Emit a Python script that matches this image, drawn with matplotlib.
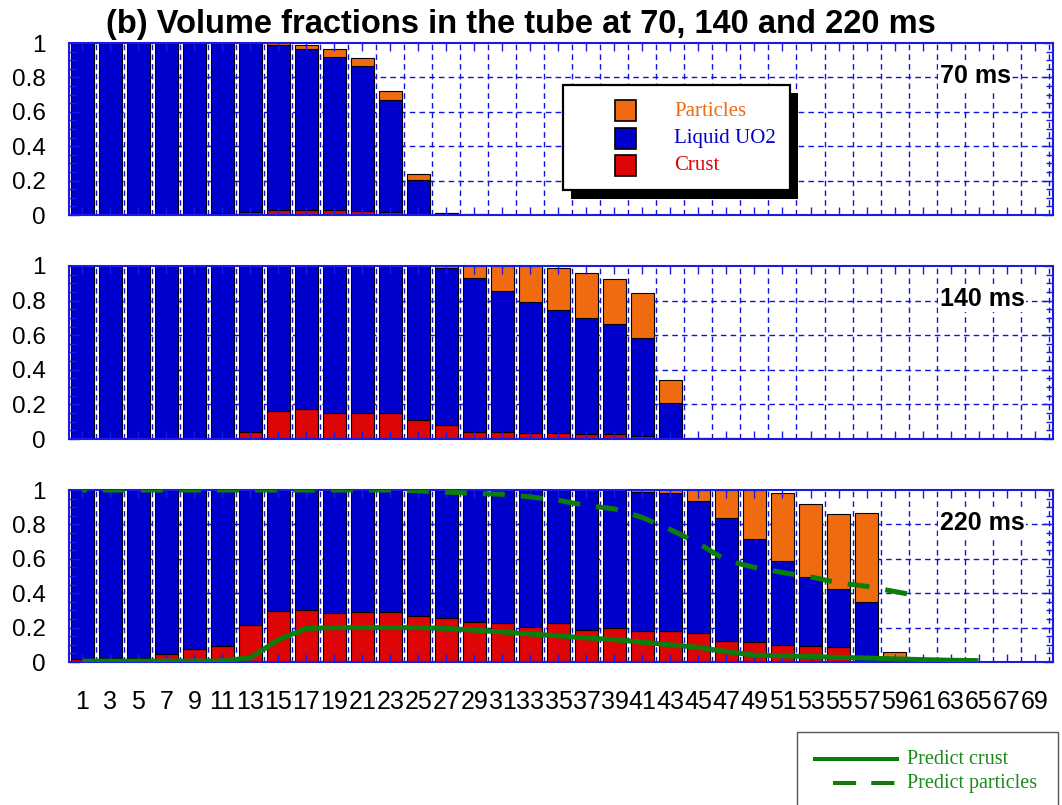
import matplotlib
matplotlib.use("Agg")
import matplotlib.pyplot as plt
from matplotlib.patches import Rectangle
from matplotlib.lines import Line2D
from matplotlib.ticker import MultipleLocator

plt.rcParams['font.family'] = ['Liberation Sans', 'DejaVu Sans']

# --- cells along the tube (every other cell labelled) ---
cells = list(range(1, 70, 2))

# --- volume fractions at 70 ms ---
crust_70 = [0, 0, 0, 0, 0, 0.01, 0.02, 0.03, 0.03, 0.03, 0.025, 0.015, 0.005,
            0.002, 0.001, 0.001, 0, 0, 0, 0, 0, 0, 0, 0, 0, 0, 0, 0, 0, 0,
            0, 0, 0, 0, 0]
liquid_70 = [1.0, 1.0, 1.0, 1.0, 1.0, 0.99, 0.98, 0.96, 0.935, 0.891, 0.84,
             0.652, 0.201, 0.008, 0.002, 0.001, 0, 0, 0, 0, 0, 0, 0, 0, 0,
             0, 0, 0, 0, 0, 0, 0, 0, 0, 0]
particles_70 = [0, 0, 0, 0, 0, 0, 0, 0.01, 0.023, 0.046, 0.046, 0.053, 0.031,
                0, 0, 0, 0, 0, 0, 0, 0, 0, 0, 0, 0, 0, 0, 0, 0, 0, 0, 0, 0,
                0, 0]

# --- volume fractions at 140 ms ---
crust_140 = [0, 0, 0, 0.002, 0, 0.005, 0.039, 0.16, 0.171, 0.148, 0.152, 0.148,
             0.11, 0.083, 0.039, 0.039, 0.033, 0.037, 0.027, 0.027, 0.015,
             0.003, 0.001, 0, 0, 0, 0, 0, 0, 0, 0, 0, 0, 0, 0]
liquid_140 = [1.0, 1.0, 1.0, 0.998, 1.0, 0.995, 0.961, 0.84, 0.829, 0.852,
              0.848, 0.852, 0.89, 0.903, 0.89, 0.818, 0.759, 0.707, 0.674,
              0.636, 0.567, 0.205, 0.007, 0.003, 0, 0, 0, 0, 0, 0, 0, 0, 0,
              0, 0]
particles_140 = [0, 0, 0, 0, 0, 0, 0, 0, 0, 0, 0, 0, 0, 0.014, 0.071, 0.143,
                 0.208, 0.246, 0.257, 0.264, 0.264, 0.135, 0, 0, 0, 0, 0, 0,
                 0, 0, 0, 0, 0, 0, 0]

# --- volume fractions at 220 ms ---
crust_220 = [0.015, 0.023, 0.023, 0.046, 0.075, 0.093, 0.215, 0.296, 0.302,
             0.284, 0.29, 0.29, 0.269, 0.255, 0.232, 0.226, 0.203, 0.228,
             0.186, 0.195, 0.182, 0.182, 0.168, 0.12, 0.114, 0.097, 0.091,
             0.085, 0.005, 0, 0.001, 0, 0, 0, 0]
liquid_220 = [0.985, 0.977, 0.977, 0.954, 0.925, 0.907, 0.785, 0.704, 0.698,
              0.716, 0.71, 0.71, 0.731, 0.745, 0.768, 0.774, 0.797, 0.772,
              0.814, 0.805, 0.808, 0.799, 0.768, 0.716, 0.6, 0.491, 0.402,
              0.339, 0.341, 0.004, 0.003, 0, 0, 0, 0]
particles_220 = [0, 0, 0, 0, 0, 0, 0, 0, 0, 0, 0, 0, 0, 0, 0, 0, 0, 0, 0, 0,
                 0.01, 0.019, 0.064, 0.164, 0.286, 0.393, 0.428, 0.435, 0.519,
                 0.056, 0.004, 0, 0, 0, 0]

# --- model predictions at 220 ms (positions in bar units) ---
pred_crust_pos = list(range(0, 33))
pred_crust = [0.005, 0.005, 0.005, 0.005, 0.005, 0.006, 0.025, 0.13, 0.195,
              0.2, 0.2, 0.2, 0.2, 0.195, 0.185, 0.175, 0.162, 0.152, 0.14,
              0.13, 0.115, 0.1, 0.085, 0.06, 0.04, 0.036, 0.032, 0.027, 0.023,
              0.018, 0.014, 0.01, 0.008]
pred_part_pos = list(range(0, 31))
pred_part = [1.0, 1.0, 1.0, 1.0, 1.0, 1.0, 1.0, 1.0, 1.0, 1.0, 1.0, 1.0, 0.995,
             0.988, 0.98, 0.975, 0.96, 0.94, 0.91, 0.89, 0.84, 0.77, 0.69,
             0.59, 0.55, 0.52, 0.495, 0.46, 0.44, 0.41, 0.38]

C_ORANGE = '#f06a10'
C_BLUE = '#0000cc'
C_RED = '#dd0505'
C_GREEN = '#0a7d0a'
C_FRAME = '#1a1ae6'

W, H = 1062, 805
fig = plt.figure(figsize=(W / 100, H / 100), dpi=100)


def fx(px):
    return px / W


def fy(py):
    return 1 - py / H


def make_axes(top, bottom):
    return fig.add_axes([fx(69), fy(bottom), fx(1053) - fx(69), (bottom - top) / H])


panels = [
    (make_axes(43, 215), crust_70, liquid_70, particles_70, '70 ms'),
    (make_axes(266, 439), crust_140, liquid_140, particles_140, '140 ms'),
    (make_axes(490, 662), crust_220, liquid_220, particles_220, '220 ms'),
]

pos = list(range(len(cells)))
for k, (ax, cr, lq, pa, lab) in enumerate(panels):
    bot2 = [c + l for c, l in zip(cr, lq)]
    ax.bar(pos, cr, width=0.82, color=C_RED, edgecolor='black', linewidth=0.8)
    ax.bar(pos, lq, bottom=cr, width=0.82, color=C_BLUE, edgecolor='black', linewidth=0.8)
    ax.bar(pos, pa, bottom=bot2, width=0.82, color=C_ORANGE, edgecolor='black', linewidth=0.8)

    # dashed grid behind the bars
    for yv in [0.2, 0.4, 0.6, 0.8]:
        ax.axhline(yv, color='#1010e0', lw=1.0, ls=(0, (4, 3)), zorder=0.5)
    for i in range(len(cells)):
        ax.axvline(i + 0.5, color='#1010e0', lw=1.0, ls=(0, (4, 3)), zorder=0.5)

    ax.set_xlim(-0.48, 34.66)
    ax.set_ylim(0, 1)
    ax.set_xticks(pos)
    if k == 2:
        ax.set_xticklabels([str(c) for c in cells])
    else:
        ax.set_xticklabels([])
    ax.yaxis.set_major_locator(MultipleLocator(0.2))
    ax.yaxis.set_minor_locator(MultipleLocator(0.05))
    ax.set_yticks([0, 0.2, 0.4, 0.6, 0.8, 1.0])
    ax.set_yticklabels(['0', '0.2', '0.4', '0.6', '0.8', '1'])
    ax.tick_params(axis='x', which='major', direction='in', top=True, bottom=True,
                   length=6, width=1, color=C_FRAME, labelsize=18, pad=20)
    ax.tick_params(axis='y', which='major', direction='in', left=True, right=True,
                   length=7, width=1, color=C_FRAME, labelsize=17.5, pad=17)
    ax.tick_params(axis='y', which='minor', direction='in', left=True, right=True,
                   length=5, width=1, color=C_FRAME)
    for sp in ax.spines.values():
        sp.set_color(C_FRAME)
        sp.set_linewidth(1.5)
    ax.text(0.885, 0.81, lab, transform=ax.transAxes, fontsize=18, fontweight='bold',
            ha='left', va='center', zorder=4,
            bbox=dict(facecolor='white', edgecolor='none', pad=1))

# predicted curves at 220 ms
ax3 = panels[2][0]
ax3.plot(pred_crust_pos, pred_crust, color=C_GREEN, lw=3.6, zorder=3,
         solid_capstyle='butt')
ax3.plot(pred_part_pos, pred_part, color=C_GREEN, lw=3.6, zorder=3,
         ls=(3.5, (4.4, 3.2)))

# title
fig.text(fx(521), fy(24), '(b) Volume fractions in the tube at 70, 140 and 220 ms',
         fontsize=23.5, fontweight='bold', ha='center', va='center')

# legend for the bars (boxed, with drop shadow)
serif = ['Liberation Serif', 'DejaVu Serif']
fig.add_artist(Rectangle((fx(571), fy(199)), fx(798) - fx(571), fy(93) - fy(199),
                         transform=fig.transFigure, facecolor='black', edgecolor='none'))
fig.add_artist(Rectangle((fx(563), fy(190)), fx(790) - fx(563), fy(85) - fy(190),
                         transform=fig.transFigure, facecolor='white', edgecolor='black',
                         linewidth=1.6))
for name, col, yc in [('Particles', C_ORANGE, 111), ('Liquid UO2', C_BLUE, 139),
                      ('Crust', C_RED, 166)]:
    fig.add_artist(Rectangle((fx(615), fy(yc + 10.5)), fx(21), 21 / H,
                             transform=fig.transFigure, facecolor=col,
                             edgecolor='black', linewidth=1.2))
    fig.text(fx(674), fy(yc), name, color=col, fontsize=15, family=serif,
             ha='left', va='center')

# legend for the predictions
fig.add_artist(Rectangle((fx(797), fy(830)), fx(1058) - fx(797), fy(732) - fy(830),
                         transform=fig.transFigure, facecolor='white',
                         edgecolor='#555555', linewidth=1.0))
fig.add_artist(Line2D([fx(813), fx(899)], [fy(759), fy(759)], transform=fig.transFigure,
                      color=C_GREEN, lw=2.9, solid_capstyle='butt'))
fig.add_artist(Line2D([fx(833), fx(895)], [fy(783), fy(783)], transform=fig.transFigure,
                      color=C_GREEN, lw=2.9, ls=(0, (5.75, 3.75))))
fig.text(fx(907), fy(759), 'Predict crust', color='#1a8a1a', fontsize=14.5,
         family=serif, ha='left', va='center')
fig.text(fx(907), fy(783), 'Predict particles', color='#1a8a1a', fontsize=14.5,
         family=serif, ha='left', va='center')

fig.savefig('out.png', dpi=100)
